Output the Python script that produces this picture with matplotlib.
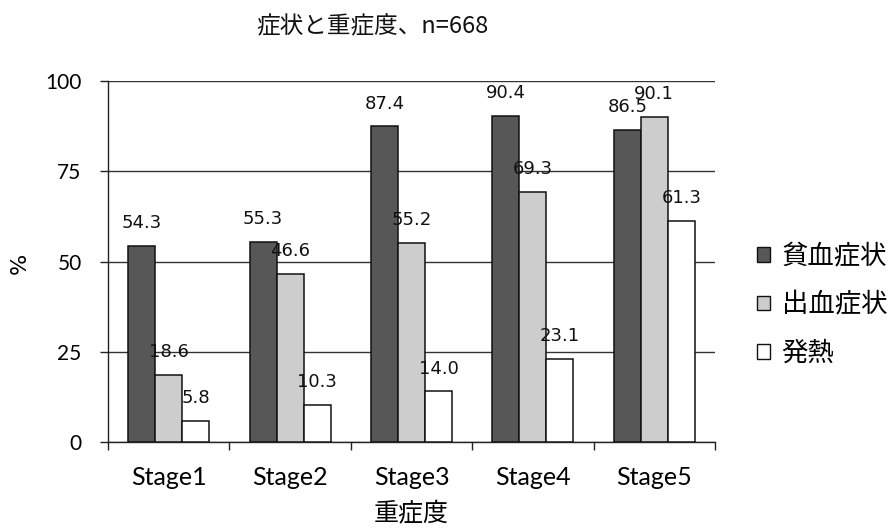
import matplotlib
matplotlib.use("Agg")
import matplotlib.pyplot as plt
from matplotlib.patches import Patch
import numpy as np

# Data
stages = ["Stage1", "Stage2", "Stage3", "Stage4", "Stage5"]
series_names = ["貧血症状", "出血症状", "発熱"]
anemia = [54.3, 55.3, 87.4, 90.4, 86.5]
bleeding = [18.6, 46.6, 55.2, 69.3, 90.1]
fever = [5.8, 10.3, 14.0, 23.1, 61.3]
y_ticks = [0, 25, 50, 75, 100]

title_text = "症状と重症度、n=668"
x_label = "重症度"
y_label = "%"

CJK = ["Noto Sans CJK JP", "DejaVu Sans"]
colors = ["#575757", "#cdcdcd", "#ffffff"]

fig = plt.figure(figsize=(8.9, 5.3), dpi=100)
ax = fig.add_axes([108 / 890, 1 - 442 / 530, (715 - 108) / 890, (442 - 81) / 530])

x = np.arange(len(stages))
width = 0.222
all_series = [anemia, bleeding, fever]
for i, (vals, col, name) in enumerate(zip(all_series, colors, series_names)):
    pos = x + (i - 1) * width
    ax.bar(pos, vals, width=width, color=col, edgecolor="#111111",
           linewidth=1.1, label=name, zorder=3)
    for px, v in zip(pos, vals):
        ax.annotate(f"{v:.1f}", (px, v), xytext=(0, 16.5),
                    textcoords="offset points", ha="center", va="center",
                    fontsize=13, family="DejaVu Sans", color="#111111",
                    zorder=5)

ax.set_xlim(-0.5, len(stages) - 0.5)
ax.set_ylim(0, 100)
ax.set_yticks(y_ticks)
ax.set_yticklabels([str(t) for t in y_ticks], family="Lato", fontsize=15)
ax.set_xticks(x)
ax.set_xticklabels(stages, family="Lato", fontsize=18)
ax.set_xticks(np.arange(len(stages) + 1) - 0.5, minor=True)
ax.tick_params(axis="x", which="major", length=0, pad=17)
ax.tick_params(axis="x", which="minor", length=6, width=1, direction="out",
               color="#222222")
ax.tick_params(axis="y", length=6, width=1, direction="out", pad=13,
               color="#222222")

ax.grid(axis="y", color="#333333", linewidth=1.0, zorder=0)
ax.set_axisbelow(True)
for side in ["top", "right"]:
    ax.spines[side].set_visible(False)
for side in ["left", "bottom"]:
    ax.spines[side].set_color("#222222")
    ax.spines[side].set_linewidth(1.0)

ax.set_ylabel(y_label, fontsize=16, family="DejaVu Sans")
ax.yaxis.label.set_va("center")
ax.yaxis.set_label_coords(-(108 - 20) / 607, (442 - 263) / 361)
ax.set_xlabel(x_label, fontsize=18, family=CJK)
ax.xaxis.label.set_va("center")
ax.xaxis.set_label_coords(0.5, -(514 - 442) / 361)

fig.text(372 / 890, 1 - 27 / 530, title_text, ha="center", va="center",
         fontsize=17, family=CJK, color="#111111")

handles = [Patch(facecolor=c, edgecolor="#111111", linewidth=1.0) for c in colors]
leg = ax.legend(handles, series_names, loc="center left",
                bbox_to_anchor=(757 / 890, 1 - 305 / 530),
                bbox_transform=fig.transFigure, frameon=False,
                prop={"family": CJK, "size": 19},
                handlelength=0.48, handleheight=0.48, handletextpad=0.45,
                labelspacing=0.82, borderpad=0, borderaxespad=0)

fig.savefig("out.png", dpi=100)
